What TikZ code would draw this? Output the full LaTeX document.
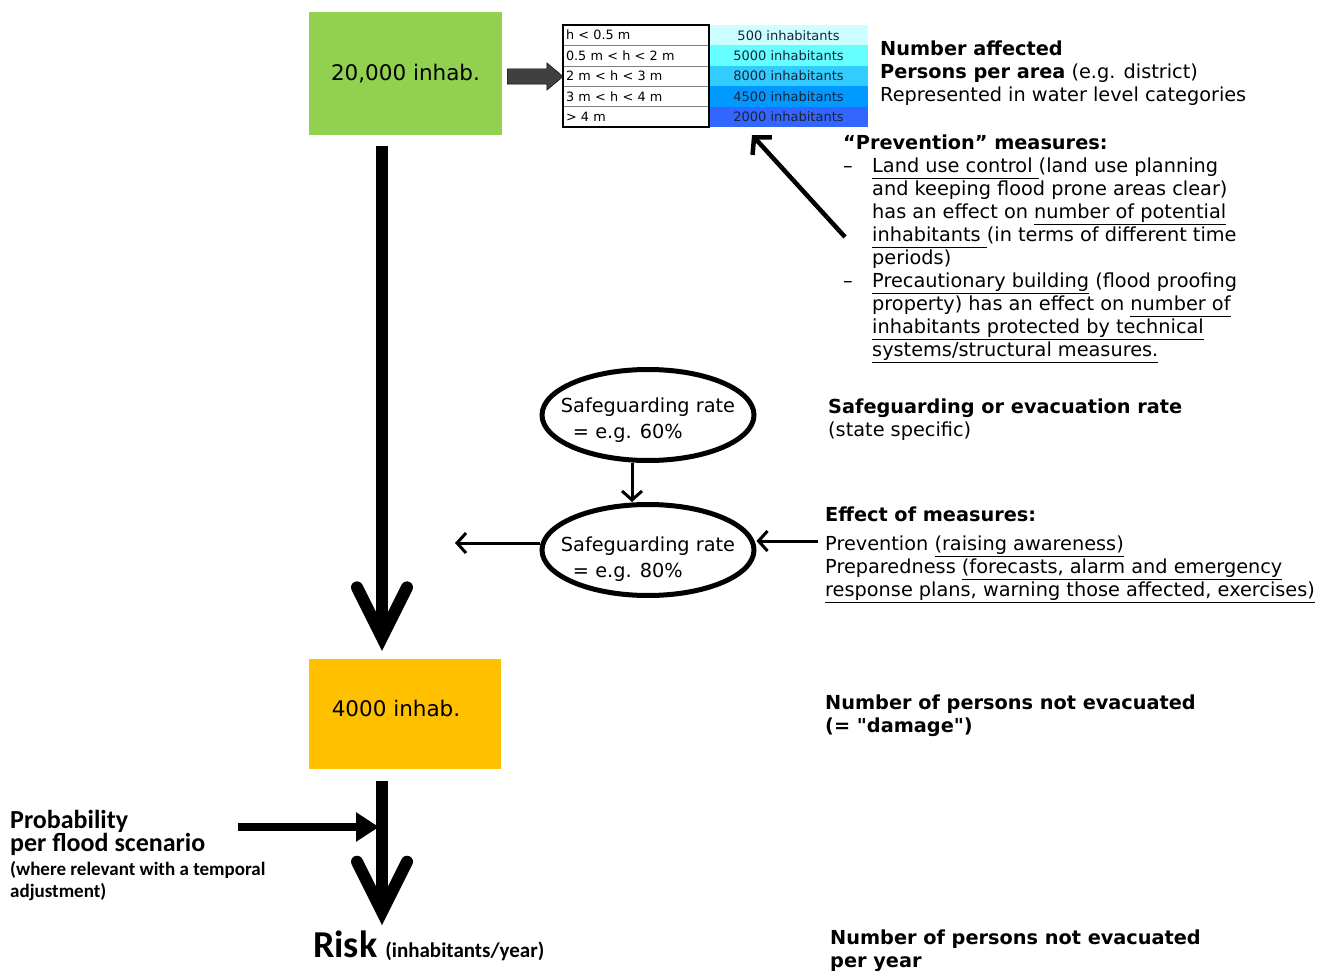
\documentclass[tikz,border=0pt]{standalone}
\usepackage{fontspec}
\setmainfont{DejaVu Sans}
\newfontfamily\calfont{Carlito}
\usepackage{tikz}
\usetikzlibrary{shapes.geometric, shapes.arrows, arrows.meta, positioning, calc}
\definecolor{popgreen}{RGB}{146, 208, 80}
\definecolor{dmgorange}{RGB}{255, 192, 0}
\definecolor{blockgrey}{RGB}{64, 64, 64}
\definecolor{cellA}{RGB}{204, 255, 255}
\definecolor{cellB}{RGB}{102, 255, 255}
\definecolor{cellC}{RGB}{51, 204, 255}
\definecolor{cellD}{RGB}{0, 153, 255}
\definecolor{cellE}{RGB}{51, 102, 255}
\definecolor{cellink}{RGB}{25, 35, 60}
\newcommand{\undl}[1]{\underline{#1\vphantom{gp()}}}
\newcommand{\itemdash}{\makebox[29pt][l]{–}}
\newcommand{\itemgap}{\hspace*{29pt}}
\tikzset{
    popbox/.style = {rectangle, minimum width=193pt, minimum height=123pt, font=\fontsize{21.5}{26}\selectfont},
    dmgbox/.style = {rectangle, minimum width=192pt, minimum height=110pt, font=\fontsize{21.5}{26}\selectfont},
    levelcell/.style = {rectangle, draw=gray, minimum width=146pt, minimum height=20.4pt, text width=140pt, inner sep=3pt, outer sep=0pt, align=left, font=\fontsize{12.8}{14}\selectfont},
    countcell/.style = {rectangle, minimum width=159pt, minimum height=20.4pt, inner sep=0pt, outer sep=0pt, text=cellink, font=\fontsize{13}{15}\selectfont},
    blockarrow/.style = {single arrow, draw=black, fill=blockgrey, minimum width=27pt, minimum height=56pt, single arrow head extend=6pt, single arrow tip angle=80, inner xsep=0pt, inner ysep=7.5pt, outer sep=0pt},
    ratebox/.style = {ellipse, draw, line width=5pt, minimum width=212pt, minimum height=91pt, inner xsep=-14pt, inner ysep=-4pt, align=left, font=\fontsize{19.3}{26}\selectfont},
    note/.style = {anchor=north west, inner sep=0pt, align=left, font=\fontsize{19.3}{23}\selectfont},
    bigarrow/.style = {line width=12pt, -{Straight Barb[length=50pt, width=50pt, line cap=round, line join=miter]}},
    thinarrow/.style = {line width=3pt, -{Straight Barb[length=9pt, width=20pt]}},
    probarrow/.style = {line width=8pt, -{Triangle[length=23pt, width=28pt]}}
}

\begin{document}
\begin{tikzpicture}[x=1pt, y=-1pt]
\useasboundingbox (0,0) rectangle (1334,971);
% Nodes
\node (pop) [popbox, fill=popgreen] at (405.5,73.5) {20,000 inhab.};
\node (blk) [blockarrow, right=5pt of pop, yshift=-3pt] {};

\node (lv1) [levelcell] at (636,35.2) {h < 0.5 m};
\node (lv2) [levelcell, below=0pt of lv1] {0.5 m < h < 2 m};
\node (lv3) [levelcell, below=0pt of lv2] {2 m < h < 3 m};
\node (lv4) [levelcell, below=0pt of lv3] {3 m < h < 4 m};
\node (lv5) [levelcell, below=0pt of lv4] {> 4 m};
\node (ct1) [countcell, fill=cellA, right=0pt of lv1] {500 inhabitants};
\node (ct2) [countcell, fill=cellB, right=0pt of lv2] {5000 inhabitants};
\node (ct3) [countcell, fill=cellC, right=0pt of lv3] {8000 inhabitants};
\node (ct4) [countcell, fill=cellD, right=0pt of lv4] {4500 inhabitants};
\node (ct5) [countcell, fill=cellE, right=0pt of lv5] {2000 inhabitants};
\draw [line width=1.5pt] (lv1.north west) rectangle (lv5.south east);

\node (numaff) [note] at (880,40.6) {\textbf{Number affected}\\
    \textbf{Persons per area} (e.g. district)\\
    Represented in water level categories};

\node (prev) [note] at (843,135) {\textbf{“Prevention” measures:}\\
    \itemdash\undl{Land use control }(land use planning\\
    \itemgap and keeping flood prone areas clear)\\
    \itemgap has an effect on \undl{number of potential}\\
    \itemgap\undl{inhabitants }(in terms of different time\\
    \itemgap periods)\\
    \itemdash\undl{Precautionary building} (flood proofing\\
    \itemgap property) has an effect on \undl{number of}\\
    \itemgap\undl{inhabitants protected by technical}\\
    \itemgap\undl{systems/structural measures.}};
\coordinate (prevtail) at (845,237);
\coordinate (prevtip) at (752,135);

\node (rate1) [ratebox] at (648,415) {\rule{0pt}{25pt}Safeguarding rate\\ \hspace*{12pt}= e.g. 60\%};
\node (rate2) [ratebox] at (648,550) {\rule{0pt}{34pt}Safeguarding rate\\ \hspace*{12pt}= e.g. 80\%};
\node (safe) [note] at (828,398.6) {\textbf{Safeguarding or evacuation rate}\\
    (state specific)};
\node (effect) [note] at (825,506.6) {\textbf{Effect of measures:}\\[6pt]
    Prevention \undl{(raising awareness)}\\
    Preparedness \undl{(forecasts, alarm and emergency}\\
    \undl{response plans, warning those affected, exercises)}};
\coordinate (effin) at (818,541);
\coordinate (leftend) at (455,543);

\node (dmg) [dmgbox, fill=dmgorange] at (405,714) {\rule[-12pt]{0pt}{12pt}4000 inhab.\hspace*{18pt}};
\node (damage) [note, font=\fontsize{19.3}{23}\selectfont\bfseries] at (825,694.6) {Number of persons not evacuated\\
    (= \textquotedbl damage\textquotedbl)};

\node (probhead) [note, font=\calfont\bfseries\fontsize{26}{23}\selectfont] at (10,810) {Probability\\per flood scenario};
\node (probnote) [note, font=\calfont\bfseries\fontsize{19}{22}\selectfont, below=5pt of probhead.south west, anchor=north west] {(where relevant with a temporal\\adjustment)};
\coordinate (probin) at (238,827);

\node (risk) [anchor=base west, inner sep=0pt, font=\calfont\bfseries] at (313,957) {{\fontsize{38}{40}\selectfont Risk}\hspace{8pt}{\fontsize{21}{24}\selectfont (inhabitants/year)}};
\node (peryear) [note, font=\fontsize{19.3}{23}\selectfont\bfseries] at (830,929.6) {Number of persons not evacuated\\
    per year};

% Arrows
\draw [bigarrow, shorten <=11pt, shorten >=8pt] ([xshift=-23.5pt]pop.south) -- ([xshift=-23.5pt]pop.south |- dmg.north);
\draw [bigarrow, shorten <=12pt, shorten >=5pt] ([xshift=-23pt]dmg.south) -- ([xshift=-23pt]dmg.south |- risk.north);
\draw [probarrow] (probin) -- ([xshift=-26pt]probin -| dmg.south);
\draw [line width=4.5pt, -{Straight Barb[length=12pt, width=26pt]}] (prevtail) -- (prevtip);
\draw [thinarrow] ([xshift=-16pt]rate1.south) -- ([xshift=-16pt]rate1.south |- rate2.north);
\draw [thinarrow] ([yshift=7pt]rate2.west) -- (leftend);
\draw [thinarrow] (effin) -- ([yshift=9pt]rate2.east);

\end{tikzpicture}
\end{document}
